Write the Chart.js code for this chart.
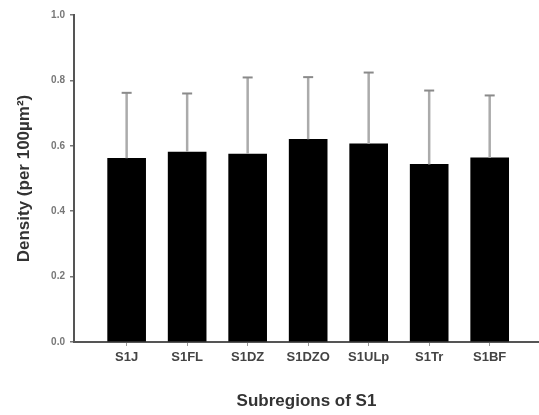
<!DOCTYPE html>
<html>
<head>
<style>
  html, body { margin: 0; padding: 0; background: #fff; }
</style>
</head>
<body>
<canvas id="myChart" width="539" height="415"></canvas>

<script src="https://cdn.jsdelivr.net/npm/chart.js"></script>

<script>
const categories = ["S1J", "S1FL", "S1DZ", "S1DZO", "S1ULp", "S1Tr", "S1BF"];
const densities = [0.562, 0.581, 0.575, 0.620, 0.606, 0.543, 0.563];
const errors = [0.200, 0.179, 0.234, 0.190, 0.218, 0.226, 0.191];
const yTicks = [0.0, 0.2, 0.4, 0.6, 0.8, 1.0];

const fontFamily = "'Liberation Sans', Arial, sans-serif";

// upper error bars only, drawn from the scales
const errorBars = {
  id: 'errorBars',
  afterDatasetsDraw(chart) {
    const { ctx, scales: { x, y } } = chart;
    ctx.save();
    densities.forEach((v, i) => {
      const px = x.getPixelForValue(i + 1);
      const yTop = y.getPixelForValue(v + errors[i]);
      const yBar = y.getPixelForValue(v);
      ctx.strokeStyle = '#ababab';
      ctx.lineWidth = 2.5;
      ctx.beginPath();
      ctx.moveTo(px, yBar);
      ctx.lineTo(px, yTop);
      ctx.stroke();
      ctx.strokeStyle = '#8a8a8a';
      ctx.lineWidth = 2;
      ctx.beginPath();
      ctx.moveTo(px - 5, yTop);
      ctx.lineTo(px + 5, yTop);
      ctx.stroke();
    });
    ctx.restore();
  }
};

const config = {
  type: 'bar',
  data: {
    datasets: [{
      data: densities.map((v, i) => ({ x: i + 1, y: v })),
      backgroundColor: '#000',
      borderWidth: 0,
      barThickness: 38
    }]
  },
  options: {
    responsive: false,
    animation: false,
    layout: { padding: { top: 15, right: 0, left: 0, bottom: 0 } },
    plugins: { legend: { display: false }, tooltip: { enabled: false } },
    scales: {
      x: {
        type: 'linear',
        offset: false,
        min: 0.13,
        max: 7.815,
        afterBuildTicks: scale => { scale.ticks = categories.map((c, i) => ({ value: i + 1 })); },
        afterFit: scale => { scale.height = 73; },
        ticks: {
          callback: v => categories[v - 1],
          color: '#444',
          font: { family: fontFamily, size: 13, weight: 'bold' },
          padding: 4,
          maxRotation: 0
        },
        grid: { offset: false, drawOnChartArea: false, tickLength: 4, color: '#999', lineWidth: 1 },
        border: { color: '#555', width: 2 },
        title: {
          display: true,
          text: 'Subregions of S1',
          color: '#333',
          font: { family: fontFamily, size: 17, weight: 'bold' },
          padding: { top: 0, bottom: 3 }
        }
      },
      y: {
        min: 0,
        max: 1,
        afterBuildTicks: scale => { scale.ticks = yTicks.map(v => ({ value: v })); },
        afterFit: scale => { scale.width = 74; },
        ticks: {
          callback: v => v.toFixed(1),
          color: '#777',
          font: { family: fontFamily, size: 10, weight: 'bold' },
          padding: 5
        },
        grid: { drawOnChartArea: false, tickLength: 4, color: '#777', lineWidth: 1.5 },
        border: { color: '#555', width: 2 },
        title: {
          display: true,
          text: 'Density (per 100\u00b5m\u00b2)',
          color: '#333',
          font: { family: fontFamily, size: 17, weight: 'bold' },
          padding: { top: 14, bottom: 0 }
        }
      }
    }
  },
  plugins: [errorBars]
};

new Chart(document.getElementById('myChart'), config);
</script>
</body>
</html>
